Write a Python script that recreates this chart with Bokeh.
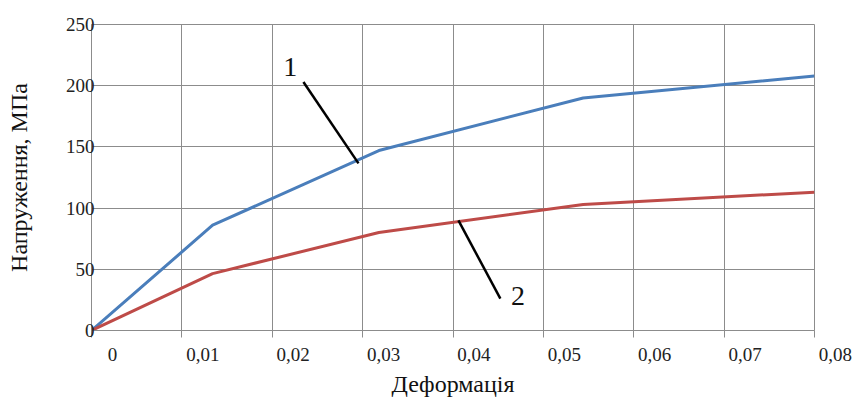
from bokeh.plotting import figure
from bokeh.models import Range1d, FixedTicker
from bokeh.embed import file_html
from bokeh.resources import INLINE

# ---- data ----
strain = [0.0, 0.0134, 0.0318, 0.0544, 0.08]
stress_1 = [0.0, 86.0, 147.0, 190.0, 208.0]
stress_2 = [0.0, 46.5, 80.0, 103.0, 113.0]

x_ticks = [0.0, 0.01, 0.02, 0.03, 0.04, 0.05, 0.06, 0.07, 0.08]
x_tick_labels = ["0", "0,01", "0,02", "0,03", "0,04", "0,05", "0,06", "0,07", "0,08"]
y_ticks = [0, 50, 100, 150, 200, 250]

x_title = "Деформація"
y_title = "Напруження, МПа"

# curve labels and leader lines (data coordinates)
callout_text = ["1", "2"]
callout_text_x = [0.0220, 0.0472]
callout_text_y = [215.0, 28.0]
leader_x0 = [0.02345, 0.0406]
leader_y0 = [203.0, 90.0]
leader_x1 = [0.02954, 0.04524]
leader_y1 = [136.5, 26.0]

FONT = "Times New Roman"
GRID = "#8c8c8c"
BLUE = "#4A7EBB"
RED = "#BE4B48"

# Excel-style labels sit just right of their gridline: pad the front of each
# centred label with fixed-width spaces so the visible text starts after the line.
PAD = "\u2003\u2003\u2009"
shown_labels = [PAD + s for s in x_tick_labels]

p = figure(width=857, height=401, output_backend="svg", toolbar_location=None,
           x_range=Range1d(0, 0.08), y_range=Range1d(0, 250),
           min_border_left=91, min_border_right=43, min_border_top=24, min_border_bottom=71)
p.background_fill_color = "white"
p.border_fill_color = "white"
p.outline_line_color = GRID
p.outline_line_width = 1

p.xaxis.ticker = FixedTicker(ticks=x_ticks)
p.yaxis.ticker = FixedTicker(ticks=y_ticks)
p.xgrid.ticker = FixedTicker(ticks=x_ticks)
p.ygrid.ticker = FixedTicker(ticks=y_ticks)
p.grid.grid_line_color = GRID
p.grid.grid_line_width = 1

p.xaxis.major_label_overrides = {t: s for t, s in zip(x_ticks, shown_labels)}
p.xaxis.axis_line_color = GRID
p.xaxis.major_tick_line_color = GRID
p.xaxis.major_tick_out = 7
p.xaxis.major_tick_in = 0
p.xaxis.minor_tick_line_color = None
p.xaxis.major_label_standoff = 6
p.xaxis.major_label_text_font = FONT
p.xaxis.major_label_text_font_size = "19px"
p.xaxis.major_label_text_color = "#222222"
p.xaxis.axis_label = x_title
p.xaxis.axis_label_text_font = FONT
p.xaxis.axis_label_text_font_size = "24px"
p.xaxis.axis_label_text_font_style = "normal"
p.xaxis.axis_label_text_color = "#111111"
p.xaxis.axis_label_standoff = 3

p.yaxis.axis_line_color = GRID
p.yaxis.major_tick_line_color = None
p.yaxis.minor_tick_line_color = None
p.yaxis.major_tick_out = 0
p.yaxis.major_tick_in = 0
p.yaxis.major_label_standoff = -3
p.yaxis.major_label_text_font = FONT
p.yaxis.major_label_text_font_size = "19px"
p.yaxis.major_label_text_color = "#222222"
p.yaxis.axis_label = y_title
p.yaxis.axis_label_text_font = FONT
p.yaxis.axis_label_text_font_size = "24px"
p.yaxis.axis_label_text_font_style = "normal"
p.yaxis.axis_label_text_color = "#111111"
p.yaxis.axis_label_standoff = 31

p.line(strain, stress_1, line_color=BLUE, line_width=3)
p.line(strain, stress_2, line_color=RED, line_width=3)

p.segment(leader_x0, leader_y0, leader_x1, leader_y1, line_color="black", line_width=2.5)

p.text(x=callout_text_x, y=callout_text_y, text=callout_text, text_font={"value": FONT},
       text_font_size="28px", text_align="center", text_baseline="middle", text_color="#111111")

open("out.html", "w").write(file_html(p, INLINE))
